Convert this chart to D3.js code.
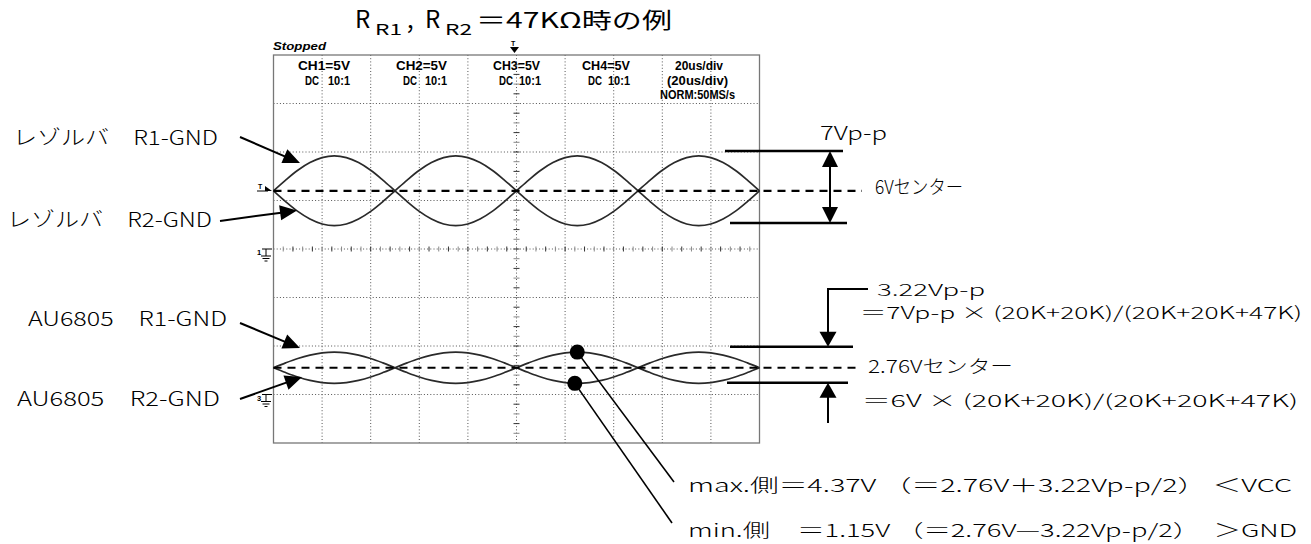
<!DOCTYPE html>
<html><head><meta charset="utf-8">
<script src="https://cdn.jsdelivr.net/npm/d3@7"></script>
<style>body{margin:0;background:#fff}svg{display:block}</style>
</head><body>
<svg id="c" width="1311" height="544"></svg>
<script>
// ---------- data read from the scope capture ----------
const timeUs = [0,5,10,15,20,25,30,35,40,45,50,55,60,65,70,75,80,85,90,95,100,
                105,110,115,120,125,130,135,140,145,150,155,160,165,170,175,180,185,190,195,200];
const ch1R1 = [6.00,7.11,8.12,8.91,9.42,9.60,9.42,8.91,8.12,7.11,6.00,4.89,3.88,3.09,2.58,2.40,2.58,3.09,3.88,4.89,6.00,
               7.11,8.12,8.91,9.42,9.60,9.42,8.91,8.12,7.11,6.00,4.89,3.88,3.09,2.58,2.40,2.58,3.09,3.88,4.89,6.00];
const ch1R2 = [6.00,4.89,3.88,3.09,2.58,2.40,2.58,3.09,3.88,4.89,6.00,7.11,8.12,8.91,9.42,9.60,9.42,8.91,8.12,7.11,6.00,
               4.89,3.88,3.09,2.58,2.40,2.58,3.09,3.88,4.89,6.00,7.11,8.12,8.91,9.42,9.60,9.42,8.91,8.12,7.11,6.00];
const ch3R1 = [2.76,3.26,3.71,4.06,4.29,4.37,4.29,4.06,3.71,3.26,2.76,2.26,1.81,1.46,1.23,1.15,1.23,1.46,1.81,2.26,2.76,
               3.26,3.71,4.06,4.29,4.37,4.29,4.06,3.71,3.26,2.76,2.26,1.81,1.46,1.23,1.15,1.23,1.46,1.81,2.26,2.76];
const ch3R2 = [2.76,2.26,1.81,1.46,1.23,1.15,1.23,1.46,1.81,2.26,2.76,3.26,3.71,4.06,4.29,4.37,4.29,4.06,3.71,3.26,2.76,
               2.26,1.81,1.46,1.23,1.15,1.23,1.46,1.81,2.26,2.76,3.26,3.71,4.06,4.29,4.37,4.29,4.06,3.71,3.26,2.76];
const ch1Center = 6.0;
const ch3Center = 2.76;
const ch1Offset = 0;     // CH1 ground on centre line
const ch3Offset = -15;   // CH3 ground 3 div below centre (5 V/div)
const maxPoint = {t:125, v:4.37};
const minPoint = {t:124, v:1.15};
const timeGrid = [20,40,60,80,100,120,140,160,180];
const voltGrid = [-15,-10,-5,0,5,10,15];
const chLabels = ["CH1=5V","CH2=5V","CH3=5V","CH4=5V"];
const coupling = ["DC","DC","DC","DC"];
const probe = ["10:1","10:1","10:1","10:1"];
const timebase = ["20us/div","(20us/div)","NORM:50MS/s"];

// ---------- setup ----------
const svg = d3.select("#c");
const fJP = "'Noto Sans CJK JP','Noto Sans',sans-serif";
const fSc = "'Liberation Sans',Arial,sans-serif";
const L = 273.5, R = 759.5, T = 55, B = 443;
const xS = d3.scaleLinear().domain([0,200]).range([L,R]);
const yS = d3.scaleLinear().domain([-20,20]).range([B,T]);

function txt(x,y,s,size,w,fam,extra){
  const t = svg.append("text").attr("x",x).attr("y",y).attr("font-size",size)
    .attr("font-family",fam||fJP).attr("fill","#000").text(s);
  if(!fam) t.attr("font-weight",300);
  if(w) t.attr("textLength",w).attr("lengthAdjust","spacingAndGlyphs");
  if(extra) for(const k in extra) t.attr(k,extra[k]);
  return t;
}
function line(x1,y1,x2,y2,sw,col,dash){
  const l = svg.append("line").attr("x1",x1).attr("y1",y1).attr("x2",x2).attr("y2",y2)
    .attr("stroke",col||"#000").attr("stroke-width",sw||1.5);
  if(dash) l.attr("stroke-dasharray",dash);
  return l;
}
function arrow(x1,y1,x2,y2,Lh,W,sw){
  const dx=x2-x1, dy=y2-y1, len=Math.hypot(dx,dy), ux=dx/len, uy=dy/len;
  const bx=x2-ux*Lh, by=y2-uy*Lh;
  line(x1,y1,bx+ux*1,by+uy*1,sw||2);
  svg.append("polygon").attr("points",
    [[x2,y2],[bx-uy*W,by+ux*W],[bx+uy*W,by-ux*W]].map(p=>p.join(",")).join(" "))
    .attr("fill","#000");
}

// ---------- scope grid ----------
const g = svg.append("g");
timeGrid.forEach(t=>{
  g.append("line").attr("x1",xS(t)).attr("x2",xS(t)).attr("y1",T).attr("y2",B)
   .attr("stroke","#555").attr("stroke-width",1).attr("stroke-dasharray","1,2.2");
});
voltGrid.forEach(v=>{
  g.append("line").attr("x1",L).attr("x2",R).attr("y1",yS(v)).attr("y2",yS(v))
   .attr("stroke","#555").attr("stroke-width",1).attr("stroke-dasharray","1,2.2");
});
// minor ticks on centre axes
d3.range(4,200,4).forEach(t=>{
  g.append("line").attr("x1",xS(t)).attr("x2",xS(t)).attr("y1",yS(0)-2.5).attr("y2",yS(0)+2.5)
   .attr("stroke",t%8===0?"#333":"#888").attr("stroke-width",1);
});
d3.range(-19,20,1).forEach(v=>{
  g.append("line").attr("x1",xS(100)-3).attr("x2",xS(100)+3).attr("y1",yS(v)).attr("y2",yS(v))
   .attr("stroke",v%2===0?"#333":"#888").attr("stroke-width",1);
});
// frame
g.append("rect").attr("x",L).attr("y",T).attr("width",R-L).attr("height",B-T)
 .attr("fill","none").attr("stroke","#777").attr("stroke-width",1.3);

// ---------- header text inside scope ----------
txt(273,50,"Stopped",11,53,fSc,{"font-weight":"bold","font-style":"italic"});
const chX = [298,396,493,582], chW=[52,51,47,48];
const dcX = [305,403,499,588], p10X=[328,425,519,608];
const hdr = {"font-weight":"bold"};
chLabels.forEach((s,i)=>{
  txt(chX[i],69.5,s,12,chW[i],fSc,hdr);
  txt(dcX[i],85,coupling[i],12,14,fSc,hdr);
  txt(p10X[i],85,probe[i],12,22,fSc,hdr);
});
txt(675,69.5,timebase[0],12,48,fSc,hdr);
txt(667,85,timebase[1],12,61,fSc,hdr);
txt(660,98.5,timebase[2],12,75,fSc,hdr);

// trigger marker top
txt(511,46,"T",7,null,fSc,{"font-weight":"bold"});
svg.append("polygon").attr("points","510,47 519,47 514.5,53").attr("fill","#000");
// trigger marker left
txt(258,189,"T",7,null,fSc,{"font-weight":"bold"});
line(257,191,268,191,1,"#000");
svg.append("polygon").attr("points","265,186 272,191 265,191").attr("fill","#000");
// ground markers
function gnd(num,y){
  txt(257,y+6,num,7.5,null,fSc,{"font-weight":"bold"});
  line(262,y,272,y,1,"#000");
  line(266,y,266,y+7,1,"#000");
  line(261,y+7,271,y+7,1,"#000");
  line(262.5,y+9.5,269.5,y+9.5,1,"#000");
  line(264.5,y+12,267.5,y+12,1,"#000");
}
gnd("1",yS(ch1Offset));
gnd("3",yS(ch3Offset));

// ---------- waveforms ----------
const lineGen = off => d3.line().x((d,i)=>xS(timeUs[i])).y(d=>yS(d+off)).curve(d3.curveCatmullRom);
[[ch1R1,ch1Offset],[ch1R2,ch1Offset],[ch3R1,ch3Offset],[ch3R2,ch3Offset]].forEach(([arr,off])=>{
  svg.append("path").attr("d",lineGen(off)(arr)).attr("fill","none")
    .attr("stroke","#2a2a2a").attr("stroke-width",1.7);
});

// centre dashed lines
line(L,yS(ch1Center+ch1Offset),862,yS(ch1Center+ch1Offset),2.2,"#000","8,6");
line(L,yS(ch3Center+ch3Offset),860,yS(ch3Center+ch3Offset),2.2,"#000","8,6");

// ---------- title ----------
const tw = {"font-weight":400};
txt(355,28,"R",24,null,null,tw);
txt(375,35,"R1",15,27,null,tw);
txt(405,30,"，",22,null,null,tw);
txt(425,28,"R",24,null,null,tw);
txt(445,35,"R2",15,27,null,tw);
txt(476,28,"＝47KΩ時の例",22,196,null,tw);

// ---------- left labels ----------
txt(13,145,"レゾルバ　R1-GND",20,205);
txt(7,227,"レゾルバ　R2-GND",20,205);
txt(28,326,"AU6805　R1-GND",20,199);
txt(17,406,"AU6805　R2-GND",20,203);
arrow(240,137,300,163,17,7.5,2);
arrow(220,221,297,210.5,17,7.5,2);
arrow(240,323,300,348,17,7.5,2);
arrow(240,399,302,377,17,7.5,2);

// ---------- right annotations (top) ----------
line(725,151,843,151,2.4);
line(730,223,847,223,2.4);
arrow(830,187,830,151,16,8,2);
arrow(830,187,830,223,16,8,2);
txt(820,140,"7Vp-p",19,67);
txt(875,194,"6Vセンター",19,88);

// ---------- right annotations (bottom) ----------
line(730,346.7,853,346.7,2.4);
line(727,382.7,848,382.7,2.4);
svg.append("path").attr("d","M868,289 H828 V332").attr("fill","none").attr("stroke","#000").attr("stroke-width",2);
arrow(828,300,828,346.7,15,8.5,2);
arrow(828,423,828,382.7,15,8.5,2);
txt(877,296,"3.22Vp-p",16.5,108);
txt(860,319,"＝7Vp-p × (20K+20K)/(20K+20K+47K)",17,442);
txt(868,373,"2.76Vセンター",18,145);
txt(862,407,"＝6V × (20K+20K)/(20K+20K+47K)",17,436);

// ---------- max / min markers ----------
const pMax = [xS(maxPoint.t), yS(maxPoint.v+ch3Offset)];
const pMin = [xS(minPoint.t), yS(minPoint.v+ch3Offset)];
line(pMax[0],pMax[1],674,482,1.6);
line(pMin[0],pMin[1],672,523,1.6);
svg.append("circle").attr("cx",pMax[0]).attr("cy",pMax[1]).attr("r",7.5).attr("fill","#000");
svg.append("circle").attr("cx",pMin[0]).attr("cy",pMin[1]).attr("r",7.5).attr("fill","#000");
txt(688,492,"max.側＝4.37V （＝2.76V＋3.22Vp-p/2） ＜VCC",18,604);
txt(688,537,"min.側　＝1.15V （＝2.76V—3.22Vp-p/2）　＞GND",18,609);
</script>
</body></html>
